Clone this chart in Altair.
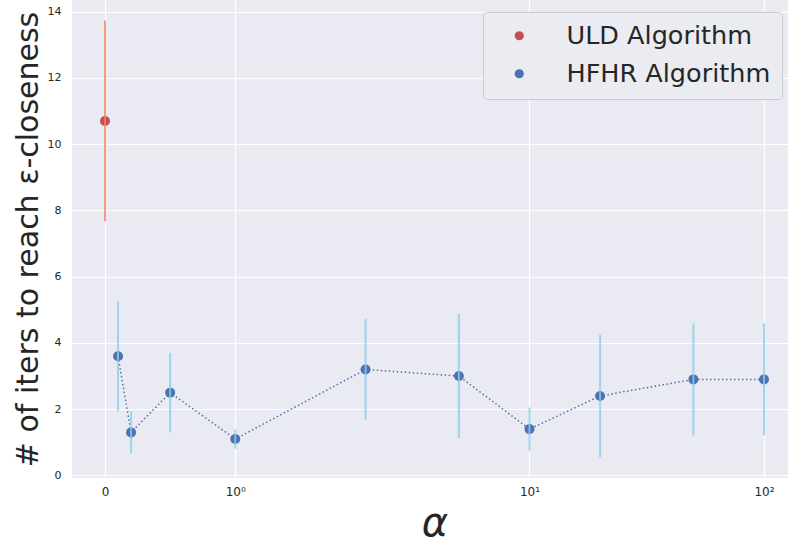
import altair as alt
import pandas as pd
import math

# ---- data ----
uld_alpha = [0]
uld_mean = [10.7]
uld_err = [3.03]

hfhr_alpha = [0.1, 0.2, 0.5, 1, 2, 5, 10, 20, 50, 100]
hfhr_mean = [3.6, 1.3, 2.5, 1.1, 3.2, 3.0, 1.4, 2.4, 2.9, 2.9]
hfhr_err = [1.67, 0.63, 1.2, 0.29, 1.52, 1.88, 0.65, 1.85, 1.69, 1.69]

series_names = ["ULD Algorithm", "HFHR Algorithm"]
point_colors = ["#c44e52", "#4c72b0"]
err_colors = ["#f7845c", "#87ceeb"]

tick_alphas = [0, 1, 10, 100]
tick_labels = ["0", "10\u2070", "10\u00b9", "10\u00b2"]
y_ticks = [0, 2, 4, 6, 8, 10, 12, 14]

# matplotlib-style symlog (linthresh=2, linscale=1, base 10)
LINTHRESH = 2.0
LINSCALE_ADJ = 1.0 / (1.0 - 1.0 / 10.0)


def symlog(v):
    if abs(v) <= LINTHRESH:
        return v * LINSCALE_ADJ
    return math.copysign(LINTHRESH * (LINSCALE_ADJ + math.log10(abs(v) / LINTHRESH)), v)


symlog_expr = (
    f"datum.alpha <= {LINTHRESH} ? datum.alpha * {LINSCALE_ADJ} : "
    f"{LINTHRESH} * ({LINSCALE_ADJ} + log(datum.alpha / {LINTHRESH}) / LN10)"
)

rows = []
for a, m, e in zip(uld_alpha, uld_mean, uld_err):
    rows.append({"alg": series_names[0], "alpha": a, "mean": m, "lo": m - e, "hi": m + e})
for a, m, e in zip(hfhr_alpha, hfhr_mean, hfhr_err):
    rows.append({"alg": series_names[1], "alpha": a, "mean": m, "lo": m - e, "hi": m + e})
df = pd.DataFrame(rows)

tick_vals = [symlog(v) for v in tick_alphas]
# label expression: pick nearest tick label
expr = f"'{tick_labels[-1]}'"
for i in range(len(tick_vals) - 2, -1, -1):
    mid = (tick_vals[i] + tick_vals[i + 1]) / 2
    expr = f"datum.value < {mid} ? '{tick_labels[i]}' : ({expr})"

FONT = "DejaVu Sans"
TXT = "#262626"

x_enc = alt.X(
    "t:Q",
    scale=alt.Scale(domain=[-0.2814, 5.825], nice=False, zero=False),
    axis=alt.Axis(
        values=tick_vals,
        labelExpr=expr,
        title="\u03b1",
        titleFontSize=40,
        titleFontStyle="italic",
        titleFontWeight="normal",
        titleFont=FONT,
        titleColor=TXT,
        titleX=362.5,
        titleY=57,
        titleAlign="center",
        titleBaseline="alphabetic",
        labelFontSize=12,
        labelFont=FONT,
        labelColor=TXT,
        labelPadding=8,
        ticks=False,
        domain=False,
        grid=True,
        gridColor="white",
        gridWidth=1.2,
    ),
)
y_scale = alt.Scale(domain=[-0.076, 14.35], nice=False, zero=False)
y_axis = alt.Axis(
    values=y_ticks,
    title="# of iters to reach \u03b5-closeness",
    titleFontSize=30,
    titleFontWeight="normal",
    titleFont=FONT,
    titleColor=TXT,
    titleX=-35,
    titleY=239,
    titleAngle=270,
    titleAlign="center",
    titleBaseline="alphabetic",
    labelFontSize=11,
    labelFont=FONT,
    labelColor=TXT,
    labelPadding=11,
    ticks=False,
    domain=False,
    grid=True,
    gridColor="white",
    gridWidth=1.2,
)

base = alt.Chart(df).transform_calculate(t=symlog_expr)

line = base.transform_filter(alt.datum.alg == series_names[1]).mark_line(
    color=point_colors[1], strokeWidth=1.5, strokeDash=[1.5, 2.5]
).encode(x=x_enc, y=alt.Y("mean:Q", scale=y_scale, axis=y_axis), order="t:Q")

points = base.mark_point(filled=True, size=100, opacity=1).encode(
    x=x_enc,
    y=alt.Y("mean:Q", scale=y_scale, axis=y_axis),
    color=alt.Color(
        "alg:N",
        scale=alt.Scale(domain=series_names, range=point_colors),
        sort=series_names,
        legend=alt.Legend(
            title=None,
            orient="none",
            legendX=411,
            legendY=12,
            fillColor="#ebebf2",
            strokeColor="#cccccc",
            cornerRadius=4,
            padding=11,
            labelFontSize=25.5,
            labelFont=FONT,
            labelColor=TXT,
            symbolSize=85,
            symbolType="circle",
            symbolStrokeWidth=0,
            symbolOffset=12.5,
            labelOffset=34.5,
            rowPadding=11,
            labelLimit=400,
        ),
    ),
)

err_layers = []
for name, col in zip(series_names, err_colors):
    err_layers.append(
        base.transform_filter(alt.datum.alg == name)
        .mark_rule(color=col, strokeWidth=2, opacity=0.8)
        .encode(x=x_enc, y=alt.Y("lo:Q", scale=y_scale, axis=y_axis), y2="hi:Q")
    )

chart = (
    alt.layer(line, points, *err_layers)
    .properties(
        width=716,
        height=478,
        autosize=alt.AutoSizeParams(type="none"),
        padding={"left": 72, "top": 0, "right": 0, "bottom": 65},
        background="white",
    )
    .configure_view(fill="#eaeaf2", stroke=None)
)

chart.save("out.html", embed_options={"renderer": "svg", "actions": False})
